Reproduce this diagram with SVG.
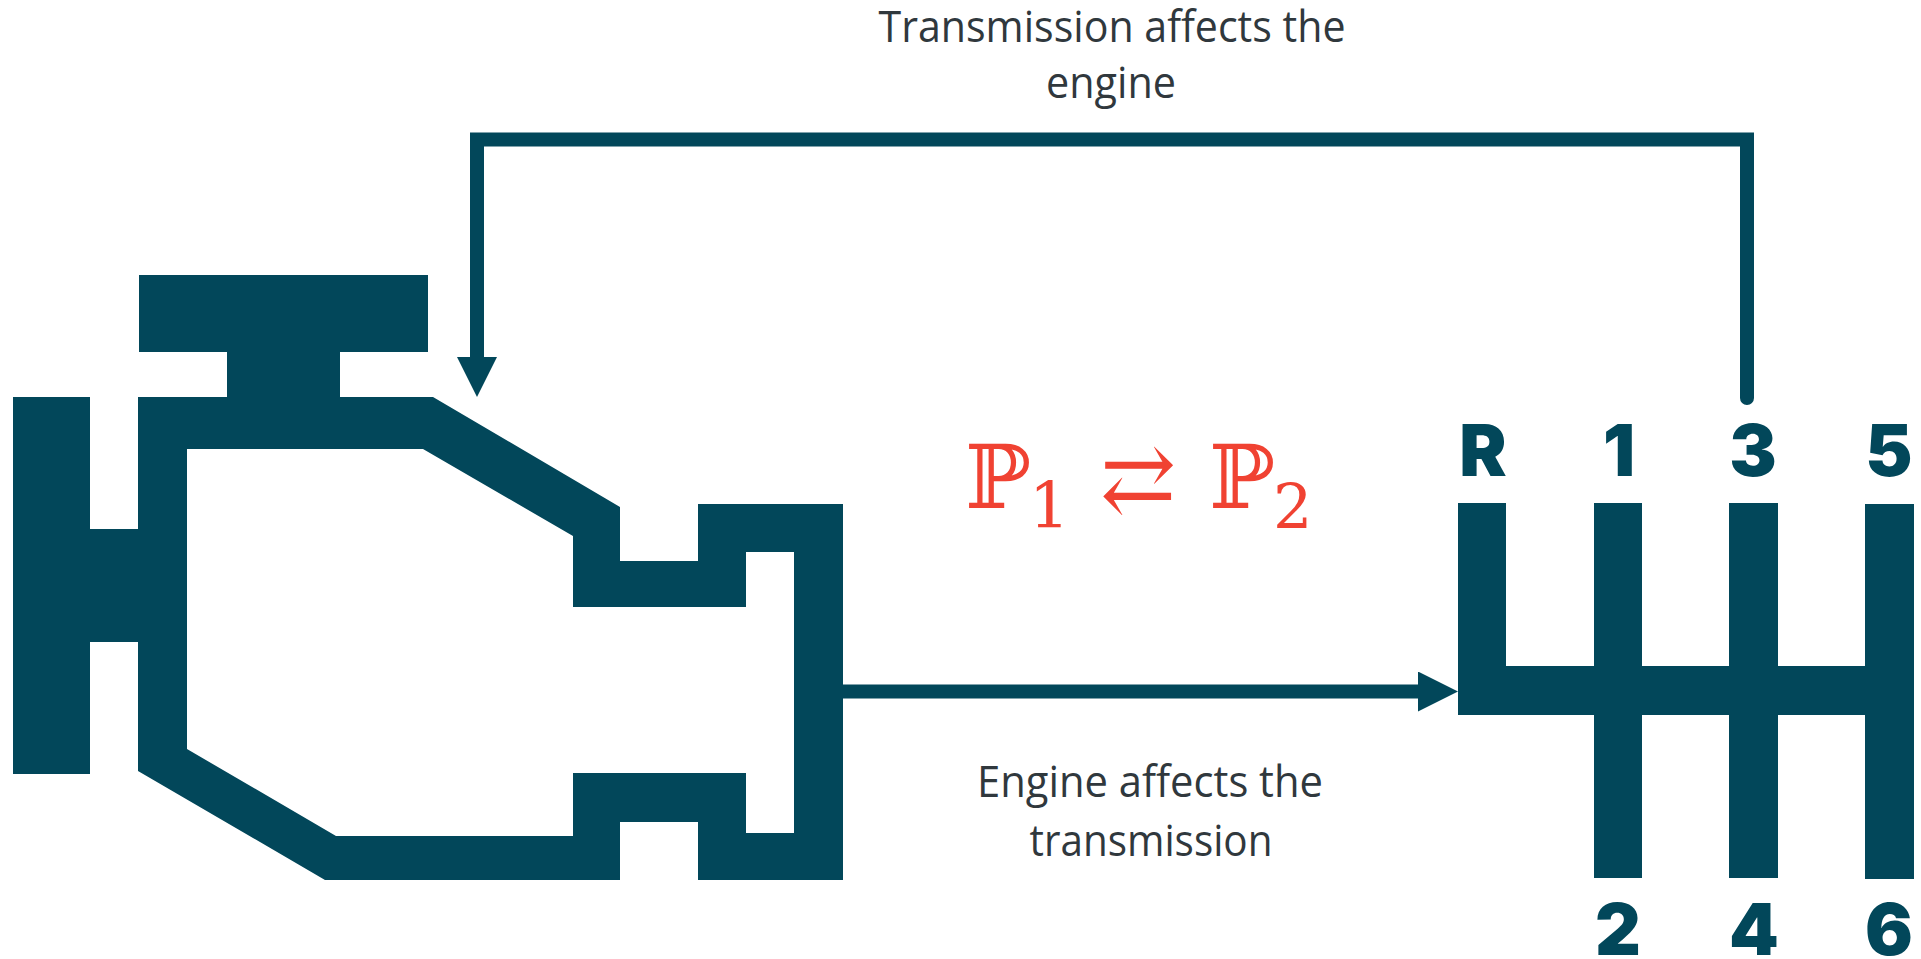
<svg xmlns="http://www.w3.org/2000/svg" width="1921" height="959" viewBox="0 0 1921 959">
<style>
.d{fill:#02475a}
.t{font-family:"Open Sans","Noto Sans",sans-serif;font-size:43px;fill:#30383d;text-anchor:middle}
.g{font-family:Inter,"Liberation Sans",sans-serif;font-weight:900;font-size:71px;fill:#02475a;text-anchor:middle}
.m{font-family:"DejaVu Serif",serif;fill:#f04232}
.c{fill:none;stroke:#02475a;stroke-width:14}
</style>
<defs>
<marker id="a" markerUnits="userSpaceOnUse" markerWidth="40" markerHeight="40" refX="0" refY="20" orient="auto"><path class="d" d="M0 0L40 20L0 40Z"/></marker>
</defs>
<rect width="1921" height="959" fill="#fff"/>
<g id="engine">
<path class="d" fill-rule="evenodd" d="M139 275H428V352H340V397H433L620 507V561H698V504H843V880H698V822H620V880H325L138 771V642H90V774H13V397H90V529H138V397H227V352H139ZM187 449V749L336 836H573V773H746V833H794V552H746V607H573V536L423 449Z"/>
</g>
<g id="gearbox">
<path class="d" d="M1458 503H1506V666H1594V503H1642V666H1729V503H1778V666H1865V504H1914V879H1865V715H1778V878H1729V715H1642V878H1594V715H1458Z"/>
<text class="g" x="1483" y="476">R</text>
<text class="g" x="1619" y="476">1</text>
<text class="g" x="1753" y="476">3</text>
<text class="g" x="1889" y="476">5</text>
<text class="g" x="1618" y="955">2</text>
<text class="g" x="1754" y="955">4</text>
<text class="g" x="1889" y="955">6</text>
</g>
<g id="connectors">
<path class="c" stroke-linecap="round" d="M1747 398V139.500H477V357" marker-end="url(#a)"/>
<path class="c" d="M843 691.500H1418" marker-end="url(#a)"/>
</g>
<g id="labels">
<text class="t" x="1112" y="42" textLength="467" lengthAdjust="spacingAndGlyphs">Transmission affects the</text>
<text class="t" x="1111" y="98" textLength="130" lengthAdjust="spacingAndGlyphs">engine</text>
<text class="t" x="1150" y="797" textLength="346" lengthAdjust="spacingAndGlyphs">Engine affects the</text>
<text class="t" x="1151" y="856" textLength="243" lengthAdjust="spacingAndGlyphs">transmission</text>
</g>
<g id="formula">
<text class="m" x="965" y="508" font-size="88">ℙ</text>
<text class="m" x="1029" y="528" font-size="64">1</text>
<text class="m" x="1100" y="510" font-size="91">⇄</text>
<text class="m" x="1209" y="508" font-size="88">ℙ</text>
<text class="m" x="1273" y="528" font-size="62">2</text>
</g>
</svg>
